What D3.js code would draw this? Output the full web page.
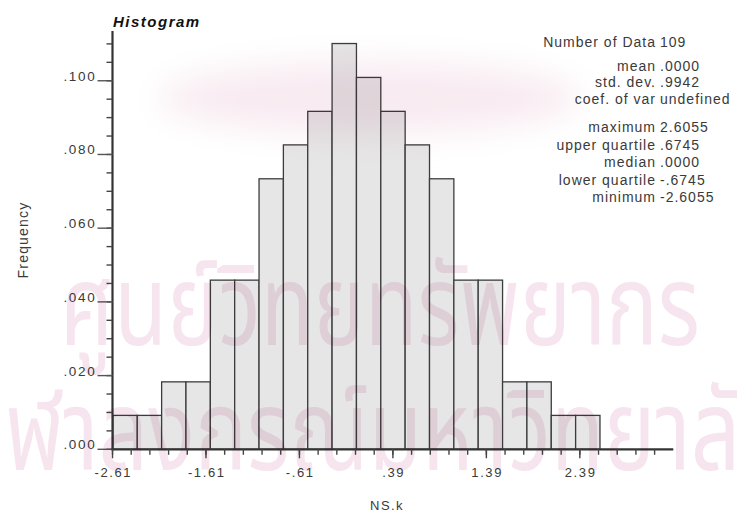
<!DOCTYPE html>
<html>
<head>
<meta charset="utf-8">
<script src="https://cdn.jsdelivr.net/npm/d3@7"></script>
<style>
  html, body { margin: 0; padding: 0; background: #fff; }
  svg { display: block; }
  .lbl { font-family: "Liberation Sans", Arial, Helvetica, sans-serif; fill: #3a3a3a; }
</style>
</head>
<body>
<svg id="chart" width="737" height="515"></svg>
<script>
// Histogram of NS.k (109 values), relative frequency per bin
const binEdges = [-2.6055, -2.3450, -2.0844, -1.8239, -1.5633, -1.3028, -1.0422,
                  -0.7817, -0.5211, -0.2606, 0.0000, 0.2606, 0.5211, 0.7817,
                  1.0422, 1.3028, 1.5633, 1.8239, 2.0844, 2.3450, 2.6055];
const frequencies = [.0092, .0092, .0183, .0183, .0459, .0459, .0734, .0826, .0917, .1101,
                     .1009, .0917, .0826, .0734, .0459, .0459, .0183, .0183, .0092, .0092];

const xTickValues = [-2.61, -1.61, -0.61, 0.39, 1.39, 2.39];
const xTickLabels = ["-2.61", "-1.61", "-.61", ".39", "1.39", "2.39"];
const yTickValues = [0, 0.02, 0.04, 0.06, 0.08, 0.10];
const yTickLabels = [".000", ".020", ".040", ".060", ".080", ".100"];

const statsTopLabels = ["Number of Data", "mean", "std. dev.", "coef. of var"];
const statsTopValues = ["109", ".0000", ".9942", "undefined"];
const statsBottomLabels = ["maximum", "upper quartile", "median", "lower quartile", "minimum"];
const statsBottomValues = ["2.6055", ".6745", ".0000", "-.6745", "-2.6055"];

const watermarkLines = ["ศูนย์วิทยทรัพยากร", "จุฬาลงกรณ์มหาวิทยาลัย"];

const svg = d3.select("#chart");

const x = d3.scaleLinear().domain([-2.61, 3.39]).range([112.5, 673.3]);
const y = d3.scaleLinear().domain([0, 0.1135]).range([449.3, 31]);

const defs = svg.append("defs");
defs.append("filter").attr("id", "soft").attr("x", "-50%").attr("y", "-50%")
  .attr("width", "200%").attr("height", "200%")
  .append("feGaussianBlur").attr("stdDeviation", 16);

// bars
const bins = frequencies.map((f, i) => ({ x0: binEdges[i], x1: binEdges[i + 1], f }));
svg.append("g").selectAll("rect").data(bins).join("rect")
  .attr("x", d => x(d.x0))
  .attr("y", d => y(d.f))
  .attr("width", d => x(d.x1) - x(d.x0))
  .attr("height", d => y(0) - y(d.f))
  .attr("fill", "#e6e6e6")
  .attr("stroke", "#3c3c3c")
  .attr("stroke-width", 1.3);

// y axis
const yAxis = svg.append("g").attr("transform", `translate(${x.range()[0]},0)`);
yAxis.append("line").attr("x1", 0).attr("x2", 0)
  .attr("y1", y.range()[0] + 1).attr("y2", y.range()[1])
  .attr("stroke", "#333").attr("stroke-width", 2.2);
const yMinor = d3.range(0, 0.1101, 0.005);
yAxis.selectAll(".ym").data(yMinor).join("line")
  .attr("x1", -6).attr("x2", 0)
  .attr("y1", d => y(d)).attr("y2", d => y(d))
  .attr("stroke", "#444").attr("stroke-width", 1.4);
yAxis.selectAll(".yM").data(yTickValues).join("line")
  .attr("x1", -15).attr("x2", 0)
  .attr("y1", d => y(d)).attr("y2", d => y(d))
  .attr("stroke", "#555").attr("stroke-width", 1.4);
yAxis.selectAll("text").data(yTickValues).join("text")
  .attr("class", "lbl")
  .attr("x", -16).attr("y", d => y(d))
  .attr("text-anchor", "end")
  .attr("font-size", 13.5).attr("letter-spacing", 1.7)
  .text((d, i) => yTickLabels[i]);

// x axis
const xAxis = svg.append("g").attr("transform", `translate(0,${y(0)})`);
xAxis.append("line").attr("x1", x.range()[0] - 1).attr("x2", x.range()[1])
  .attr("y1", 0).attr("y2", 0)
  .attr("stroke", "#333").attr("stroke-width", 2.2);
const xMinor = d3.range(-2.61, 3.30, 0.2);
xAxis.selectAll(".xm").data(xMinor).join("line")
  .attr("x1", d => x(d)).attr("x2", d => x(d))
  .attr("y1", 0).attr("y2", 5.5)
  .attr("stroke", "#444").attr("stroke-width", 1.4);
xAxis.selectAll(".xM").data(xTickValues).join("line")
  .attr("x1", d => x(d)).attr("x2", d => x(d))
  .attr("y1", 0).attr("y2", 9)
  .attr("stroke", "#444").attr("stroke-width", 1.4);
xAxis.selectAll("text").data(xTickValues).join("text")
  .attr("class", "lbl")
  .attr("x", d => x(d) + 0.8).attr("y", 28)
  .attr("text-anchor", "middle")
  .attr("font-size", 13).attr("letter-spacing", 1.6)
  .text((d, i) => xTickLabels[i]);

// axis titles and chart title
svg.append("text").attr("class", "lbl")
  .attr("x", 387).attr("y", 510).attr("text-anchor", "middle")
  .attr("font-size", 13).attr("letter-spacing", 1.4).text("NS.k");
svg.append("text").attr("class", "lbl")
  .attr("transform", "translate(28,240) rotate(-90)")
  .attr("text-anchor", "middle")
  .attr("font-size", 14).attr("letter-spacing", 1.2).text("Frequency");
svg.append("text").attr("class", "lbl")
  .attr("x", 113).attr("y", 27)
  .attr("font-size", 15).attr("font-weight", "bold").attr("font-style", "italic")
  .attr("letter-spacing", 1.5)
  .style("fill", "#111")
  .text("Histogram");

// summary statistics block: labels right-aligned, values left-aligned
function statBlock(labels, values, baselines) {
  const g = svg.append("g");
  g.selectAll(".sl").data(labels).join("text")
    .attr("class", "lbl")
    .attr("x", 656).attr("y", (d, i) => baselines[i])
    .attr("text-anchor", "end").attr("font-size", 14).attr("letter-spacing", 1)
    .text(d => d);
  g.selectAll(".sv").data(values).join("text")
    .attr("class", "lbl")
    .attr("x", 660).attr("y", (d, i) => baselines[i])
    .attr("font-size", 14).attr("letter-spacing", 1)
    .text(d => d);
}
statBlock(statsTopLabels, statsTopValues, [46.5, 70.5, 87, 103.5]);
statBlock(statsBottomLabels, statsBottomValues, [132, 149.5, 167, 184.5, 202]);

// watermark overlay
const wmFont = "'Noto Sans Thai', 'Noto Sans Thai Looped', Loma, Garuda, Kinnari, 'DejaVu Sans', sans-serif";
const wm = svg.append("g").style("mix-blend-mode", "multiply").attr("fill", "#f6e5ee");
wm.append("ellipse").attr("cx", 370).attr("cy", 98).attr("rx", 210).attr("ry", 36)
  .attr("filter", "url(#soft)").attr("fill", "#f8ebf1");
wm.append("text").attr("x", 60).attr("y", 345)
  .attr("font-size", 112)
  .attr("font-family", wmFont)
  .attr("textLength", 640).attr("lengthAdjust", "spacingAndGlyphs")
  .text(watermarkLines[0]);
wm.append("text").attr("x", -41).attr("y", 470)
  .attr("font-size", 112)
  .attr("font-family", wmFont)
  .attr("textLength", 833).attr("lengthAdjust", "spacingAndGlyphs")
  .text(watermarkLines[1]);
</script>
</body>
</html>
